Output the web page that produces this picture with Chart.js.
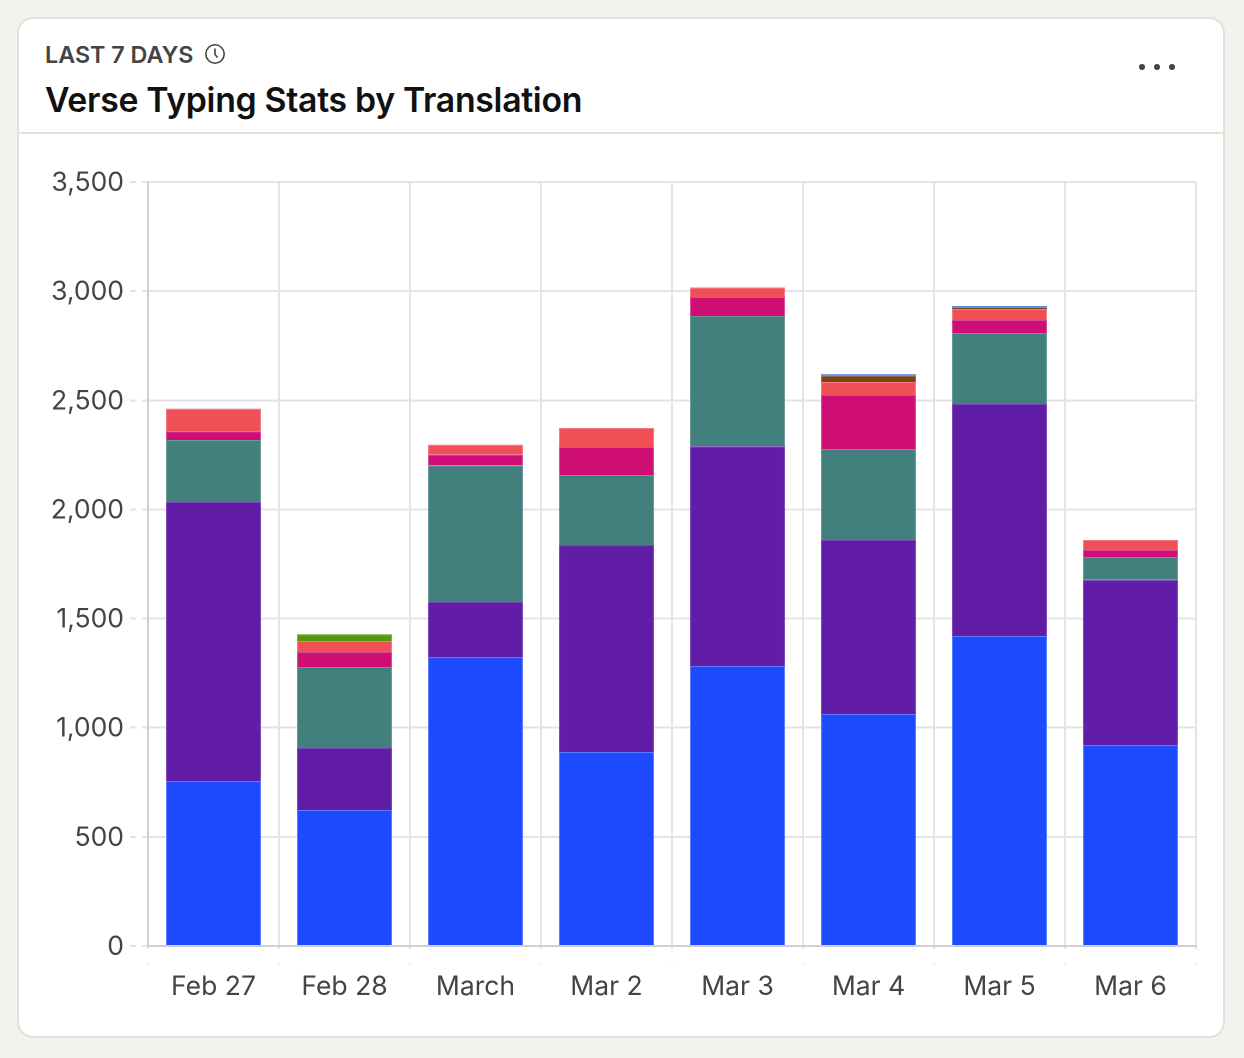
<!DOCTYPE html>
<html>
<head>
<meta charset="utf-8">
<script src="https://cdn.jsdelivr.net/npm/chart.js@4"></script>
<style>
  html, body { margin: 0; padding: 0; background: #f2f3ee; }
  body { width: 1244px; height: 1058px; overflow: hidden; font-family: Inter, sans-serif; }
  #card { position: absolute; left: 17px; top: 17px; width: 1204px; height: 1017px; background: #fff;
          border: 2px solid #e0e1d8; border-radius: 16px; }
  #head { position: absolute; left: 0; top: 0; width: 1204px; height: 113px; border-bottom: 2px solid #e0e1d8; }
  #sub { position: absolute; left: 26px; top: 22px; font-size: 23.3px; font-weight: 600; color: #444; line-height: 28px; }
  #clock { position: absolute; left: 185px; top: 24px; }
  #title { position: absolute; left: 26px; top: 60px; font-size: 33.8px; font-weight: 600; color: #111; line-height: 42px; letter-spacing: -0.3px; }
  #dots { position: absolute; left: 1119px; top: 43px; }
  #wrap { position: absolute; left: 0; top: 0; width: 1244px; height: 1058px; }
</style>
</head>
<body>
<div id="card">
  <div id="head">
    <div id="sub">LAST 7 DAYS</div>
    <svg id="clock" width="22" height="22" viewBox="0 0 22 22" fill="none" stroke="#444" stroke-width="1.6">
      <circle cx="11" cy="11" r="9.2"/><path d="M11 5.5V11.5L13.5 14.5"/>
    </svg>
    <div id="title">Verse Typing Stats by Translation</div>
    <svg id="dots" width="40" height="10" fill="#444">
      <circle cx="4" cy="5" r="3"/><circle cx="19" cy="5" r="3"/><circle cx="34" cy="5" r="3"/>
    </svg>
  </div>
</div>
<div id="wrap"><canvas id="chart" width="1244" height="1058"></canvas></div>
<script>
const days = ["Feb 27", "Feb 28", "March", "Mar 2", "Mar 3", "Mar 4", "Mar 5", "Mar 6"];
const yTicks = [0, 500, 1000, 1500, 2000, 2500, 3000, 3500];

const blue = [756, 623, 1324, 889, 1283, 1063, 1420, 921];
const purple = [1278, 284, 252, 948, 1007, 797, 1063, 756];
const teal = [284, 371, 627, 321, 596, 417, 325, 105];
const magenta = [41, 69, 50, 128, 87, 247, 60, 32];
const coral = [103, 50, 44, 87, 44, 60, 50, 46];
const green = [0, 32, 0, 0, 0, 0, 0, 0];
const brown = [0, 0, 0, 0, 0, 27, 9, 0];
const skyBlue = [0, 0, 0, 0, 0, 9, 5, 0];

function stack(data, fill, edge) {
  return { data, backgroundColor: fill, borderColor: edge, borderWidth: 1, barPercentage: 1, categoryPercentage: 0.725 };
}

new Chart(document.getElementById("chart"), {
  type: "bar",
  data: {
    labels: days,
    datasets: [
      stack(blue, "#1d4aff", "#5a7bff"),
      stack(purple, "#621da6", "#7d45b8"),
      stack(teal, "#42807d", "#6a9997"),
      stack(magenta, "#ce0e74", "#dc4a97"),
      stack(coral, "#f14f58", "#f57a81"),
      stack(green, "#529a0a", "#7cb347"),
      stack(brown, "#7c440e", "#966a42"),
      stack(skyBlue, "#5b84e6", "#5b84e6")
    ]
  },
  options: {
    responsive: false,
    animation: false,
    devicePixelRatio: 2,
    layout: { padding: { top: 182, left: 0, right: 48, bottom: 0 } },
    plugins: { legend: { display: false }, tooltip: { enabled: false } },
    scales: {
      x: {
        stacked: true,
        grid: {
          color: "#e3e3e8", lineWidth: 2, tickLength: 18, tickColor: "#e3e3e8",
          tickBorderDash: [2, 14], offset: true
        },
        border: { color: "#cfcfd5", width: 2 },
        ticks: { color: "#444", font: { family: "Inter", size: 26.5 }, padding: 7, maxRotation: 0 },
        afterFit: s => { s.height = 112; }
      },
      y: {
        stacked: true,
        min: 0,
        max: 3500,
        afterBuildTicks: s => { s.ticks = yTicks.map(v => ({ value: v })); },
        grid: {
          color: "#e3e3e8", lineWidth: 2, tickLength: 18, tickColor: "#e3e3e8",
          tickBorderDash: [6, 6]
        },
        border: { color: "#cfcfd5", width: 2 },
        ticks: { color: "#444", font: { family: "Inter", size: 26.5 }, padding: 6, labelOffset: 1,
                 callback: v => v.toLocaleString("en-US") },
        afterFit: s => { s.width = 148; }
      }
    }
  }
});
</script>
</body>
</html>
